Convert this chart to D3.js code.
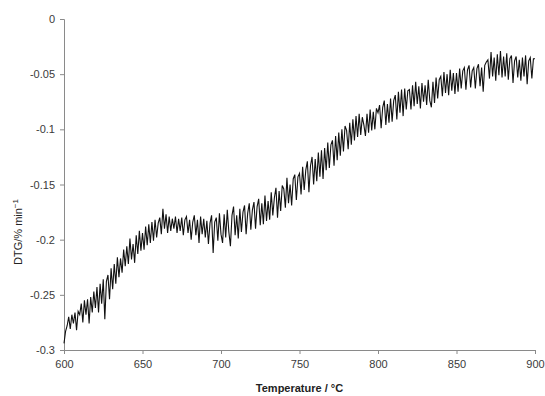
<!DOCTYPE html>
<html>
<head>
<meta charset="utf-8">
<script src="https://cdn.jsdelivr.net/npm/d3@7"></script>
<style>
  body { margin: 0; background: #fff; }
  svg { display: block; font-family: "Liberation Sans", Arial, sans-serif; }
</style>
</head>
<body>
<div id="chart"></div>
<script>
// chart size
const width = 545;
const height = 396;
const margin = { top: 19, right: 10, bottom: 46, left: 64 };

// x ticks and y ticks
const xTicks = [600, 650, 700, 750, 800, 850, 900];
const yTicks = [0, -0.05, -0.1, -0.15, -0.2, -0.25, -0.3];
const yTickLabels = ["0", "-0.05", "-0.1", "-0.15", "-0.2", "-0.25", "-0.3"];

// temperature grid, one reading per degree
const temps = d3.range(600, 901, 1);

// DTG readings (%/min), 600..900 °C
const dtg = [
  -0.294, -0.283, -0.278, -0.270, -0.281, -0.268, -0.276, -0.266, -0.282, -0.265,
  -0.268, -0.258, -0.275, -0.255, -0.268, -0.254, -0.276, -0.252, -0.266, -0.247,
  -0.262, -0.243, -0.266, -0.240, -0.258, -0.236, -0.272, -0.238, -0.232, -0.254,
  -0.226, -0.245, -0.222, -0.240, -0.216, -0.234, -0.217, -0.230, -0.209, -0.224,
  -0.206, -0.222, -0.199, -0.218, -0.204, -0.221, -0.196, -0.213, -0.192, -0.210,
  -0.194, -0.209, -0.188, -0.205, -0.186, -0.203, -0.184, -0.201, -0.182, -0.198,
  -0.185, -0.180, -0.195, -0.172, -0.190, -0.177, -0.194, -0.179, -0.192, -0.181,
  -0.190, -0.179, -0.194, -0.181, -0.192, -0.180, -0.196, -0.182, -0.179, -0.194,
  -0.182, -0.200, -0.184, -0.178, -0.196, -0.182, -0.203, -0.179, -0.195, -0.181,
  -0.198, -0.183, -0.204, -0.185, -0.178, -0.212, -0.184, -0.180, -0.201, -0.176,
  -0.195, -0.203, -0.177, -0.198, -0.173, -0.193, -0.206, -0.178, -0.170, -0.196,
  -0.178, -0.199, -0.172, -0.193, -0.175, -0.169, -0.195, -0.176, -0.167, -0.191,
  -0.173, -0.166, -0.190, -0.170, -0.163, -0.187, -0.167, -0.186, -0.160, -0.183,
  -0.165, -0.182, -0.157, -0.178, -0.162, -0.153, -0.180, -0.156, -0.174, -0.151,
  -0.154, -0.171, -0.144, -0.167, -0.150, -0.169, -0.145, -0.141, -0.164, -0.143,
  -0.140, -0.159, -0.134, -0.155, -0.137, -0.129, -0.157, -0.133, -0.125, -0.150,
  -0.127, -0.147, -0.121, -0.143, -0.119, -0.145, -0.117, -0.137, -0.112, -0.135,
  -0.114, -0.110, -0.133, -0.106, -0.128, -0.103, -0.124, -0.100, -0.120, -0.097,
  -0.101, -0.118, -0.094, -0.114, -0.091, -0.110, -0.088, -0.107, -0.086, -0.105,
  -0.089, -0.096, -0.106, -0.086, -0.103, -0.082, -0.101, -0.084, -0.100, -0.081,
  -0.085, -0.078, -0.099, -0.080, -0.074, -0.096, -0.077, -0.094, -0.072, -0.093,
  -0.074, -0.069, -0.091, -0.066, -0.085, -0.064, -0.088, -0.063, -0.082, -0.065,
  -0.064, -0.082, -0.060, -0.079, -0.057, -0.077, -0.061, -0.081, -0.058, -0.075,
  -0.060, -0.078, -0.055, -0.074, -0.080, -0.057, -0.076, -0.053, -0.072, -0.055,
  -0.052, -0.070, -0.048, -0.067, -0.050, -0.069, -0.046, -0.065, -0.049, -0.068,
  -0.049, -0.066, -0.045, -0.063, -0.047, -0.044, -0.064, -0.046, -0.042, -0.062,
  -0.047, -0.044, -0.063, -0.045, -0.041, -0.061, -0.044, -0.066, -0.042, -0.039,
  -0.037, -0.054, -0.030, -0.052, -0.035, -0.056, -0.032, -0.051, -0.029, -0.053,
  -0.034, -0.052, -0.031, -0.055, -0.036, -0.033, -0.058, -0.038, -0.034, -0.053,
  -0.037, -0.056, -0.035, -0.052, -0.033, -0.059, -0.038, -0.035, -0.054, -0.036,
  -0.036
];

const points = temps.map((t, i) => ({ t: t, v: dtg[i] }));

const svg = d3.select("#chart")
  .append("svg")
  .attr("width", width)
  .attr("height", height);

const x = d3.scaleLinear()
  .domain([600, 900])
  .range([margin.left, width - margin.right]);

const y = d3.scaleLinear()
  .domain([-0.3, 0])
  .range([height - margin.bottom, margin.top]);

// x axis along the bottom
const xAxis = svg.append("g")
  .attr("transform", `translate(0,${height - margin.bottom})`)
  .call(d3.axisBottom(x).tickValues(xTicks).tickSize(4).tickPadding(6).tickFormat(d3.format("d")));

// y axis on the left
const yAxis = svg.append("g")
  .attr("transform", `translate(${margin.left},0)`)
  .call(d3.axisLeft(y).tickValues(yTicks).tickSize(4).tickPadding(5)
    .tickFormat((d, i) => yTickLabels[i]));

[xAxis, yAxis].forEach(g => {
  g.select(".domain").attr("stroke", "#8a8a8a");
  g.selectAll(".tick line").attr("stroke", "#8a8a8a");
  g.selectAll(".tick text")
    .attr("fill", "#3a3a3a")
    .style("font-size", "11px");
});

// the DTG trace
const line = d3.line()
  .x(d => x(d.t))
  .y(d => y(d.v));

svg.append("path")
  .datum(points)
  .attr("fill", "none")
  .attr("stroke", "#111")
  .attr("stroke-width", 1.1)
  .attr("d", line);

// axis titles
svg.append("text")
  .attr("x", (margin.left + width - margin.right) / 2)
  .attr("y", 392)
  .attr("text-anchor", "middle")
  .style("font-size", "11px")
  .style("font-weight", "bold")
  .attr("fill", "#222")
  .text("Temperature / °C");

const yTitle = svg.append("text")
  .attr("transform", "translate(22,232) rotate(-90)")
  .attr("text-anchor", "middle")
  .style("font-size", "11px")
  .attr("fill", "#222");
yTitle.append("tspan").text("DTG/% min");
yTitle.append("tspan")
  .attr("dy", "-0.45em")
  .style("font-size", "8px")
  .text("−1");
</script>
</body>
</html>
